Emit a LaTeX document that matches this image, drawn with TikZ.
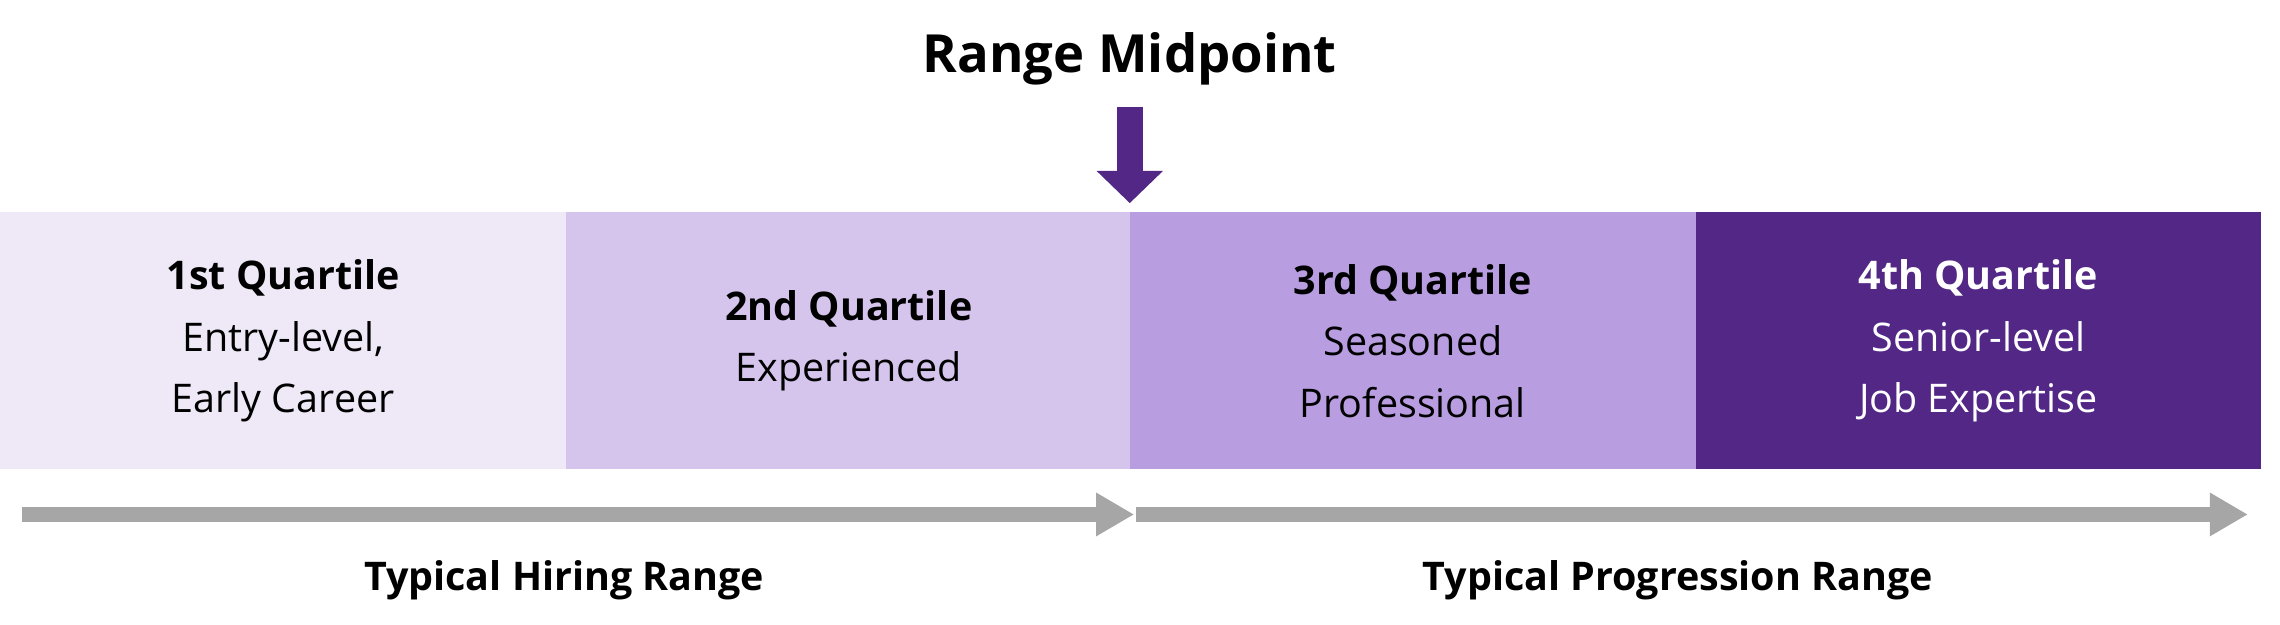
\documentclass[tikz,border=0pt]{standalone}
\usepackage{fontspec}
\setmainfont{Open Sans}
\usetikzlibrary{arrows.meta}
\definecolor{qa}{HTML}{EFE8F7}
\definecolor{qb}{HTML}{D5C4EC}
\definecolor{qc}{HTML}{B89DE0}
\definecolor{qd}{HTML}{522785}
\definecolor{gr}{HTML}{A6A6A6}
\begin{document}
\begin{tikzpicture}[x=1pt,y=-1pt,
  box/.style={minimum width=387pt,minimum height=176pt,inner sep=0pt,draw=none,anchor=north west,align=center,font=\fontsize{27}{42}\selectfont},
  lab/.style={font=\fontsize{27}{32}\selectfont\bfseries},
  garr/.style={gr,line width=10pt,-{Triangle[length=26pt,width=28pt]}}]
\useasboundingbox (0,0) rectangle (1560,427);
\node[box,fill=qa] (q1) at (0,145) {\textbf{1st Quartile}\\Entry-level,\\Early Career};
\node[box,fill=qb] (q2) at (387,145) {\textbf{2nd Quartile}\\Experienced};
\node[box,fill=qc] (q3) at (773,145) {\textbf{3rd Quartile}\\Seasoned\\Professional};
\node[box,fill=qd,text=white] (q4) at (1160,145) {\textbf{4th Quartile}\\Senior-level\\Job Expertise};
\node[font=\fontsize{36}{40}\selectfont\bfseries] (t) at (773,40) {Range Midpoint};
\coordinate (m1) at (773,73);
\coordinate (m2) at (773,139);
\draw[qd,line width=18pt,-{Triangle[length=22pt,width=44pt]}] (m1) -- (m2);
\coordinate (a1) at (15,352); \coordinate (a2) at (776,352);
\coordinate (b1) at (777,352); \coordinate (b2) at (1538,352);
\draw[garr] (a1) -- (a2);
\draw[garr] (b1) -- (b2);
\node[lab] (h) at (386,397) {Typical Hiring Range};
\node[lab] (p) at (1148,397) {Typical Progression Range};
\end{tikzpicture}
\end{document}
